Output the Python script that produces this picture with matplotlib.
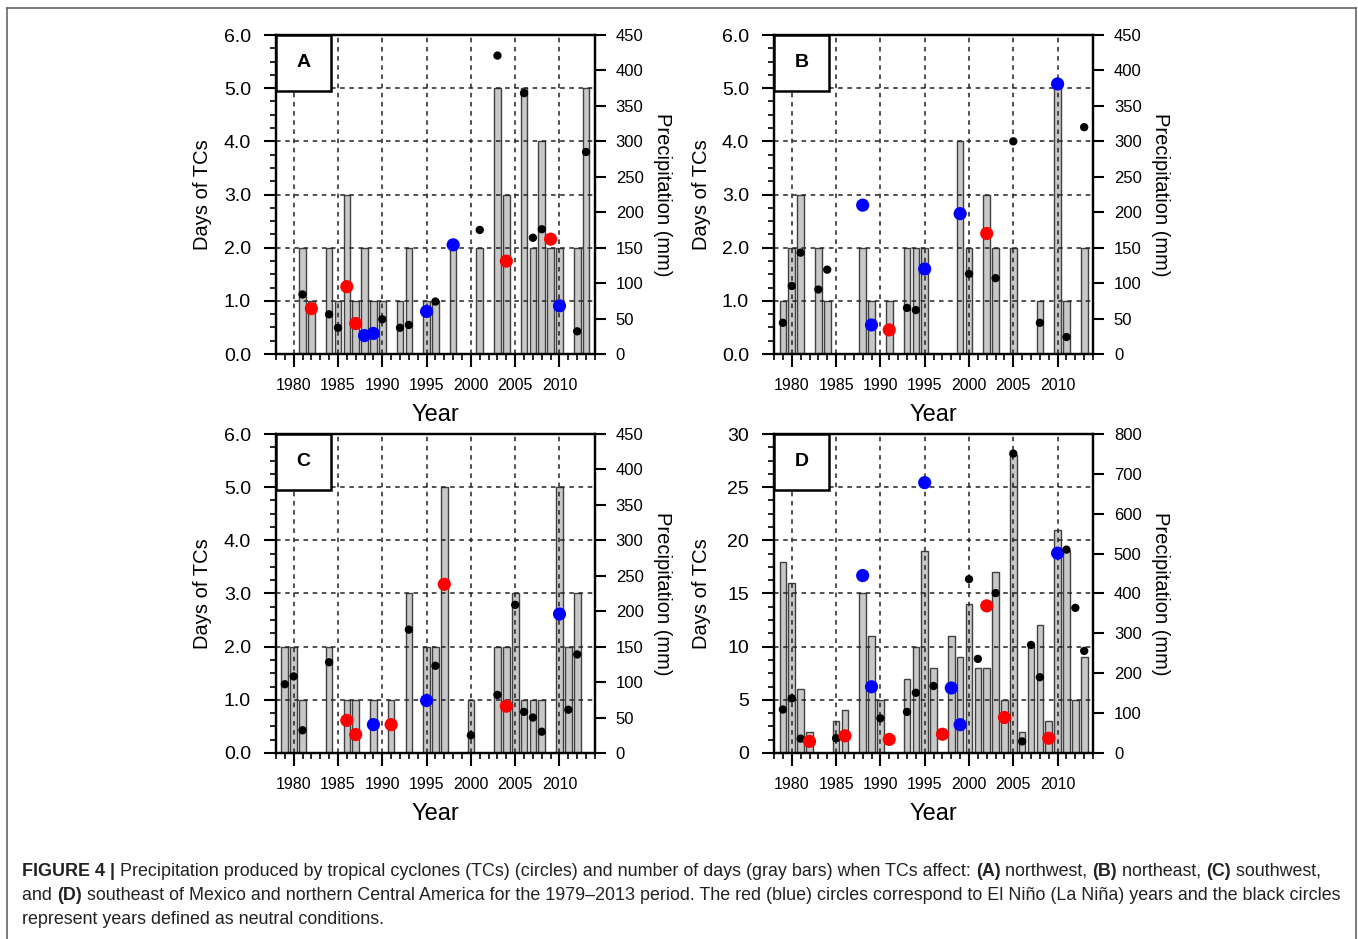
import numpy as np
import matplotlib
matplotlib.use("Agg")
import matplotlib.pyplot as plt
from matplotlib.patches import Rectangle
from matplotlib.lines import Line2D
from matplotlib.ticker import MultipleLocator, FormatStrFormatter

plt.rcParams['font.family'] = ['Liberation Sans', 'DejaVu Sans']

nan = np.nan
years = np.arange(1979, 2014)

# ENSO phase of each year (same in all panels)
el_nino_years = [1982, 1986, 1987, 1991, 1997, 2002, 2004, 2009]
la_nina_years = [1988, 1989, 1995, 1998, 1999, 2010]

# days of TCs (gray bars), 1979-2013
days_a = [0, 0, 2, 1, 0, 2, 1, 3, 1, 2, 1, 1, 0, 1, 2, 0, 1, 1, 0, 2,
          0, 0, 2, 0, 5, 3, 0, 5, 2, 4, 2, 2, 0, 2, 5]
days_b = [1, 2, 3, 0, 2, 1, 0, 0, 0, 2, 1, 0, 1, 0, 2, 2, 2, 0, 0, 0,
          4, 2, 0, 3, 2, 0, 2, 0, 0, 1, 0, 5, 1, 0, 2]
days_c = [2, 2, 1, 0, 0, 2, 0, 1, 1, 0, 1, 0, 1, 0, 3, 0, 2, 2, 5, 0,
          0, 1, 0, 0, 2, 2, 3, 1, 1, 1, 0, 5, 2, 3, 0]
days_d = [18, 16, 6, 2, 0, 0, 3, 4, 0, 15, 11, 5, 0, 0, 7, 10, 19, 8, 0, 11,
          9, 14, 8, 8, 17, 5, 28, 2, 10, 12, 3, 21, 19, 5, 9]

# precipitation (mm) from TCs (circles), 1979-2013
precip_a = [nan, nan, 84, 64, nan, 56, 37, 95, 43, 26, 29, 49, nan, 37, 41, nan, 60, 74,
            nan, 154, nan, nan, 175, nan, 421, 131, nan, 368, 164, 176, 162, 68, nan, 32, 285]
precip_b = [44, 96, 143, nan, 91, 119, nan, nan, nan, 210, 41, nan, 34, nan, 65, 62, 120, nan,
            nan, nan, 198, 113, nan, 170, 107, nan, 300, nan, nan, 44, nan, 381, 24, nan, 320]
precip_c = [97, 108, 32, nan, nan, 128, nan, 46, 26, nan, 40, nan, 40, nan, 174, nan, 74, 123,
            238, nan, nan, 25, nan, nan, 82, 66, 209, 58, 50, 30, nan, 196, 61, 139, nan]
precip_d = [109, 137, 36, 29, nan, nan, 37, 43, nan, 445, 166, 87, 34, nan, 103, 151, 678, 168,
            47, 163, 71, 436, 236, 369, 401, 89, 751, 29, 271, 190, 37, 501, 510, 364, 256]

panels = [
    ("A", days_a, precip_a, [0.2032, 0.6230], 6, 1, 450, 50, "%.1f"),
    ("B", days_b, precip_b, [0.5700, 0.6230], 6, 1, 450, 50, "%.1f"),
    ("C", days_c, precip_c, [0.2032, 0.1981], 6, 1, 450, 50, "%.1f"),
    ("D", days_d, precip_d, [0.5700, 0.1981], 30, 5, 800, 100, "%d"),
]

W, H = 1358, 939
fig = plt.figure(figsize=(W / 100, H / 100), dpi=100)

for label, days, precip, pos, ymax, ystep, pmax, pstep, fmt in panels:
    ax = fig.add_axes([pos[0], pos[1], 0.2349, 0.3397])
    days = np.array(days, dtype=float)
    precip = np.array(precip, dtype=float)
    has = days > 0
    ax.bar(years[has], days[has], width=0.75, color='#c8c8c8',
           edgecolor='#404040', linewidth=1.0, zorder=1)
    ax.set_xlim(1978, 2014)
    ax.set_ylim(0, ymax)
    ax.xaxis.set_major_locator(MultipleLocator(5))
    ax.xaxis.set_minor_locator(MultipleLocator(1))
    ax.yaxis.set_major_locator(MultipleLocator(ystep))
    ax.yaxis.set_minor_locator(MultipleLocator(ystep / 4))
    ax.yaxis.set_major_formatter(FormatStrFormatter(fmt))
    ax.set_axisbelow(False)
    ax.grid(True, which='major', color='#222222', linestyle=(0, (3, 3)), linewidth=1.1)
    ax.tick_params(axis='x', which='major', direction='out', length=9, width=1.5,
                   labelsize=11.5, pad=8)
    ax.tick_params(axis='x', which='minor', direction='out', length=4, width=1.2)
    ax.tick_params(axis='y', which='major', direction='out', length=9, width=1.5,
                   labelsize=14, pad=9)
    ax.tick_params(axis='y', which='minor', direction='out', length=4, width=1.2)
    for s in ax.spines.values():
        s.set_linewidth(1.6)

    ax2 = ax.twinx()
    ax2.set_ylim(0, pmax)
    ax2.yaxis.set_major_locator(MultipleLocator(pstep))
    ax2.tick_params(axis='y', direction='out', length=8, width=1.5, labelsize=12, pad=7)
    for s in ax2.spines.values():
        s.set_linewidth(1.6)

    colors = np.array(['black'] * len(years), dtype=object)
    sizes = np.full(len(years), 36.0)
    for i, yr in enumerate(years):
        if yr in el_nino_years:
            colors[i] = '#ff0000'
            sizes[i] = 90
        elif yr in la_nina_years:
            colors[i] = '#0000ff'
            sizes[i] = 90
    ok = ~np.isnan(precip)
    ax2.scatter(years[ok], precip[ok], s=sizes[ok], c=list(colors[ok]),
                edgecolors='none', zorder=4, clip_on=False)

    ax2.add_patch(Rectangle((0, 0.825), 0.172, 0.175, transform=ax2.transAxes,
                            facecolor='white', edgecolor='black', linewidth=1.8,
                            zorder=6, clip_on=False))
    ax2.text(0.086, 0.9125, label, transform=ax2.transAxes, ha='center', va='center',
             fontsize=14, fontweight='bold', zorder=7)

    ax.text(0.5, -0.191, "Year", transform=ax.transAxes, ha='center', va='center',
            fontsize=17)
    ax.text(-0.229, 0.5, "Days of TCs", transform=ax.transAxes, ha='center',
            va='center', rotation=90, fontsize=14.5)
    ax.text(1.213, 0.5, "Precipitation (mm)", transform=ax.transAxes, ha='center',
            va='center', rotation=-90, fontsize=14.5)

# outer frame
frame_kw = dict(color='#666666', linewidth=1.2, transform=fig.transFigure)
fig.add_artist(Line2D([7 / W, 1356 / W], [1 - 8 / H, 1 - 8 / H], **frame_kw))
fig.add_artist(Line2D([7 / W, 7 / W], [1 - 8 / H, 0], **frame_kw))
fig.add_artist(Line2D([1356 / W, 1356 / W], [1 - 8 / H, 0], **frame_kw))

# caption with bold pieces
caption = [
    [("FIGURE 4 |", True), (" Precipitation produced by tropical cyclones (TCs) (circles) and number "
                            "of days (gray bars) when TCs affect: ", False),
     ("(A)", True), (" northwest, ", False), ("(B)", True), (" northeast, ", False),
     ("(C)", True), (" southwest,", False)],
    [("and ", False), ("(D)", True), (" southeast of Mexico and northern Central America for the "
                                      "1979\u20132013 period. The red (blue) circles correspond to "
                                      "El Ni\u00f1o (La Ni\u00f1a) years and the black circles", False)],
    [("represent years defined as neutral conditions.", False)],
]
renderer = fig.canvas.get_renderer()
for row, ypx in zip(caption, [871, 895, 920]):
    x = 22 / W
    for txt, bold in row:
        t = fig.text(x, 1 - ypx / H, txt, fontsize=12.9, color='#222222',
                     fontweight='bold' if bold else 'normal', va='center', ha='left')
        x = t.get_window_extent(renderer).x1 / W

fig.savefig("out.png", dpi=100)
